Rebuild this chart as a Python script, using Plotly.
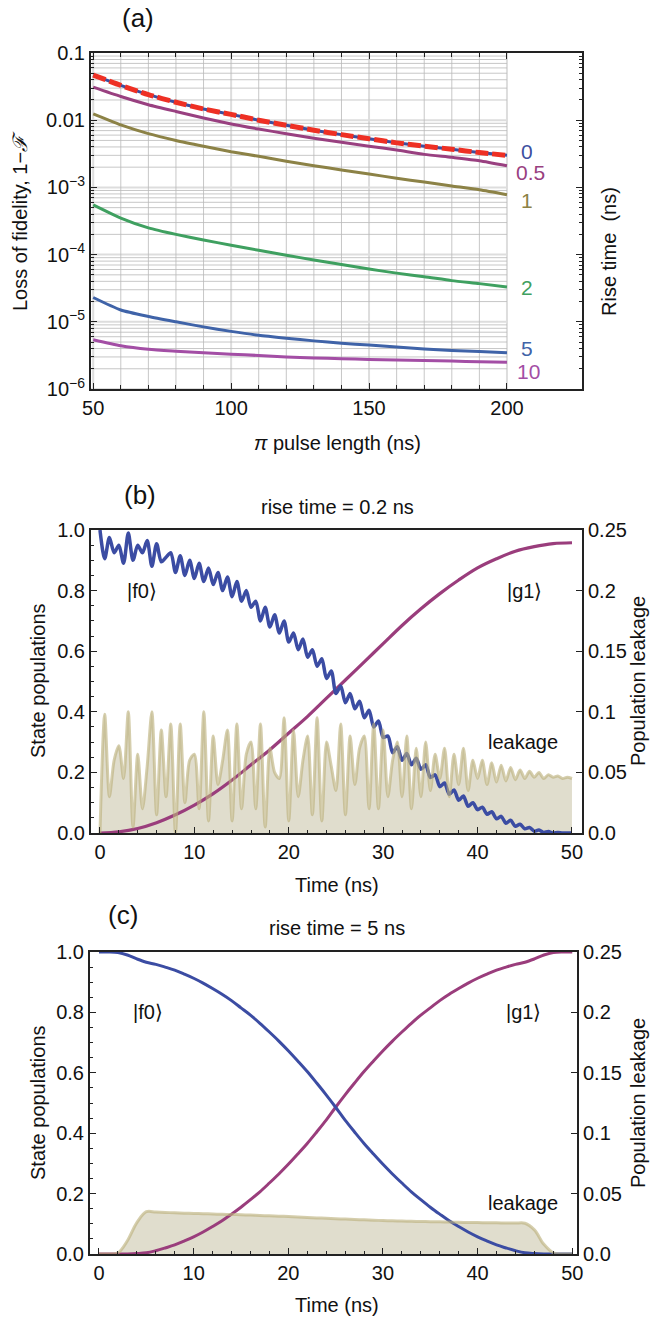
import plotly.graph_objects as go
import numpy as np

# ---------------- Panel (a) data ----------------
pulse_ns = [50, 60, 70, 80, 90, 100, 110, 120, 130, 140, 150, 160, 170, 180, 190, 200]
loss_rise_0 = [0.047, 0.033, 0.024, 0.0185, 0.0147, 0.0122, 0.0100, 0.0084, 0.0071, 0.0061,
               0.0053, 0.0046, 0.0041, 0.0037, 0.0033, 0.0030]
loss_analytic = [0.047, 0.033, 0.024, 0.0185, 0.0147, 0.0122, 0.0100, 0.0084, 0.0071, 0.0061,
                 0.0053, 0.0046, 0.0041, 0.0037, 0.0033, 0.0030]
loss_rise_05 = [0.031, 0.0225, 0.017, 0.0135, 0.0108, 0.0088, 0.0074, 0.0063, 0.0054, 0.0047,
                0.0041, 0.0036, 0.0031, 0.0028, 0.0025, 0.0021]
loss_rise_1 = [0.0124, 0.0085, 0.0063, 0.0050, 0.0041, 0.0034, 0.0029, 0.00245, 0.0021, 0.00182,
               0.00158, 0.00137, 0.0012, 0.00105, 0.00092, 0.00078]
loss_rise_2 = [5.5e-4, 3.5e-4, 2.5e-4, 2.0e-4, 1.65e-4, 1.38e-4, 1.16e-4, 9.8e-5, 8.3e-5, 7.1e-5,
               6.1e-5, 5.3e-5, 4.7e-5, 4.1e-5, 3.7e-5, 3.3e-5]
loss_rise_5 = [2.3e-5, 1.5e-5, 1.2e-5, 1.0e-5, 8.4e-6, 7.2e-6, 6.3e-6, 5.7e-6, 5.2e-6, 4.8e-6,
               4.5e-6, 4.2e-6, 3.95e-6, 3.75e-6, 3.6e-6, 3.45e-6]
loss_rise_10 = [5.4e-6, 4.4e-6, 3.9e-6, 3.65e-6, 3.45e-6, 3.3e-6, 3.15e-6, 3.0e-6, 2.9e-6, 2.82e-6,
                2.75e-6, 2.7e-6, 2.65e-6, 2.6e-6, 2.55e-6, 2.5e-6]
rise_labels = ["0", "0.5", "1", "2", "5", "10"]
a_ytick_vals = [1e-6, 1e-5, 1e-4, 1e-3, 1e-2, 1e-1]
a_ytick_text = ["10<sup>−6</sup>", "10<sup>−5</sup>", "10<sup>−4</sup>", "10<sup>−3</sup>", "0.01", "0.1"]
a_xtick_vals = [50, 100, 150, 200]
a_grid_x = [50, 60, 70, 80, 90, 100, 110, 120, 130, 140, 150, 160, 170, 180, 190, 200]

# ---------------- Panel (b) data (rise time 0.2 ns) ----------------
t_b = [i * 0.5 for i in range(101)]
f0_b = [
    1.00, 0.905, 0.975, 0.925, 0.95, 0.89, 0.99, 0.90, 0.95, 0.925,
    0.965, 0.88, 0.955, 0.895, 0.91, 0.925, 0.86, 0.915, 0.85, 0.90,
    0.84, 0.89, 0.83, 0.875, 0.82, 0.86, 0.80, 0.845, 0.78, 0.83,
    0.765, 0.80, 0.745, 0.765, 0.70, 0.745, 0.68, 0.72, 0.66, 0.70,
    0.63, 0.66, 0.605, 0.64, 0.58, 0.605, 0.55, 0.575, 0.51, 0.535,
    0.46, 0.485, 0.43, 0.46, 0.41, 0.435, 0.38, 0.405, 0.35, 0.37,
    0.315, 0.32, 0.265, 0.285, 0.24, 0.262, 0.225, 0.247, 0.21, 0.225,
    0.183, 0.192, 0.153, 0.165, 0.128, 0.142, 0.108, 0.122, 0.088, 0.10,
    0.077, 0.085, 0.062, 0.07, 0.047, 0.055, 0.032, 0.042, 0.022, 0.029,
    0.014, 0.018, 0.006, 0.010, 0.002, 0.005, 0.0, 0.002, 0.0, 0.0,
    0.0]
leak_b = [
    0.0, 0.098, 0.03, 0.06, 0.072, 0.045, 0.1, 0.005, 0.065, 0.02,
    0.055, 0.1, 0.015, 0.085, 0.03, 0.09, 0.0, 0.09, 0.025, 0.06,
    0.065, 0.02, 0.1, 0.01, 0.08, 0.04, 0.06, 0.085, 0.01, 0.09,
    0.02, 0.065, 0.075, 0.02, 0.09, 0.005, 0.07, 0.05, 0.045, 0.095,
    0.01, 0.085, 0.03, 0.06, 0.08, 0.015, 0.095, 0.01, 0.075, 0.055,
    0.035, 0.09, 0.015, 0.08, 0.04, 0.07, 0.08, 0.02, 0.09, 0.02,
    0.085, 0.03, 0.06, 0.075, 0.03, 0.08, 0.02, 0.07, 0.03, 0.075,
    0.035, 0.065, 0.045, 0.07, 0.03, 0.065, 0.04, 0.07, 0.035, 0.06,
    0.045, 0.06, 0.04, 0.058, 0.042, 0.056, 0.043, 0.054, 0.044, 0.052,
    0.045, 0.051, 0.046, 0.05, 0.045, 0.048, 0.046, 0.047, 0.045, 0.046,
    0.045]
t_b_g1 = [i * 2 for i in range(26)]
g1_b = [0.0, 0.004, 0.015, 0.034, 0.06, 0.092, 0.13, 0.175, 0.225, 0.275, 0.33, 0.385, 0.445,
        0.505, 0.565, 0.625, 0.685, 0.74, 0.79, 0.835, 0.875, 0.905, 0.93, 0.945, 0.955, 0.958]

# ---------------- Panel (c) data (rise time 5 ns) ----------------
t_c = list(range(51))
f0_c = [1.0, 1.0, 0.998, 0.99, 0.977, 0.966, 0.959, 0.950, 0.940, 0.927, 0.913, 0.897, 0.879,
        0.860, 0.839, 0.815, 0.791, 0.764, 0.735, 0.705, 0.673, 0.639, 0.604, 0.566, 0.527,
        0.486, 0.443, 0.404, 0.366, 0.331, 0.297, 0.265, 0.235, 0.206, 0.180, 0.155, 0.132,
        0.110, 0.091, 0.073, 0.057, 0.043, 0.030, 0.020, 0.011, 0.004, 0.0015, 0.0003, 0.0,
        0.0, 0.0]
g1_c = [0.0, 0.0, 0.0, 0.0003, 0.0015, 0.004, 0.011, 0.020, 0.030, 0.043, 0.057, 0.073, 0.091,
        0.110, 0.132, 0.155, 0.180, 0.206, 0.235, 0.265, 0.297, 0.331, 0.366, 0.404, 0.443,
        0.486, 0.527, 0.566, 0.604, 0.639, 0.673, 0.705, 0.735, 0.764, 0.791, 0.815, 0.839,
        0.860, 0.879, 0.897, 0.913, 0.927, 0.940, 0.950, 0.959, 0.966, 0.977, 0.99, 0.998,
        1.0, 1.0]
leak_c = [0.0, 0.0, 0.001, 0.011, 0.026, 0.035, 0.0347, 0.0344, 0.0341, 0.0338, 0.0336, 0.0334,
          0.0331, 0.0329, 0.0327, 0.0325, 0.0322, 0.0319, 0.0316, 0.0313, 0.031, 0.0306, 0.0303,
          0.0299, 0.0296, 0.0292, 0.0289, 0.0286, 0.0283, 0.028, 0.0277, 0.0275, 0.0273, 0.0271,
          0.0269, 0.0268, 0.0266, 0.0264, 0.0262, 0.0261, 0.026, 0.0259, 0.0258, 0.0257, 0.0256,
          0.0255, 0.020, 0.008, 0.001, 0.0, 0.0]

leak_tick_vals = [0, 0.05, 0.1, 0.15, 0.2, 0.25]
leak_tick_text = ["0.0", "0.05", "0.1", "0.15", "0.2", "0.25"]
pop_tick_vals = [0, 0.2, 0.4, 0.6, 0.8, 1.0]
pop_tick_text = ["0.0", "0.2", "0.4", "0.6", "0.8", "1.0"]
time_tick_vals = [0, 10, 20, 30, 40, 50]

# ---------------- styling ----------------
W, H = 654, 1321
FONT = "Liberation Sans, Arial, sans-serif"
FRAME = "#222222"
C_F0 = "#3b4ca3"
C_G1 = "#9a3d7c"
C_LEAK_LINE = "rgba(188,176,122,0.62)"
C_LEAK_FILL = "rgba(205,200,175,0.62)"
a_colors = ["#3c4fa0", "#994080", "#8c8246", "#3fa060", "#3f63a8", "#a34ea5"]
C_RED = "#ee3024"
TICK_SIZE = 20
TITLE_SIZE = 20


def px(x):
    return x / W


def py(y):
    return 1 - y / H


fig = go.Figure()

# ---- panel (a) grid as traces, limited to the pulse-length range ----
a_x0, a_x1 = 49.2, 227.2
gx_major, gy_major, gx_minor, gy_minor = [], [], [], []
for g in a_grid_x:
    tgt = (gx_major, gy_major) if g in a_xtick_vals else (gx_minor, gy_minor)
    tgt[0].extend([g, g, None])
    tgt[1].extend([1e-6, 1e-1, None])
for k in range(-6, -1):
    for m in range(1, 10):
        v = m * 10.0 ** k
        if m == 1:
            gx_major.extend([a_x0, 200, None]); gy_major.extend([v, v, None])
        else:
            gx_minor.extend([a_x0, 200, None]); gy_minor.extend([v, v, None])
fig.add_trace(go.Scatter(x=gx_major, y=gy_major, mode="lines", xaxis="x", yaxis="y",
                         line=dict(color="#dddddd", width=2), hoverinfo="skip"))
fig.add_trace(go.Scatter(x=gx_minor, y=gy_minor, mode="lines", xaxis="x", yaxis="y",
                         line=dict(color="#b9b9b9", width=0.8), hoverinfo="skip"))

a_series = [loss_rise_0, loss_rise_05, loss_rise_1, loss_rise_2, loss_rise_5, loss_rise_10]
for s, c in zip(a_series, a_colors):
    fig.add_trace(go.Scatter(x=pulse_ns, y=s, mode="lines", xaxis="x", yaxis="y",
                             line=dict(color=c, width=3, shape="spline", smoothing=0.6)))
fig.add_trace(go.Scatter(x=pulse_ns, y=loss_analytic, mode="lines", xaxis="x", yaxis="y",
                         line=dict(color=C_RED, width=5, dash="13px,4px", shape="spline",
                                   smoothing=0.6)))

# ---- panel (b): base axis y2 = leakage (fill), overlay y3 = populations, overlay y6 = leak line
fig.add_trace(go.Scatter(x=t_b, y=leak_b, mode="lines", xaxis="x2", yaxis="y2", fill="tozeroy",
                         fillcolor=C_LEAK_FILL, line=dict(width=0, shape="spline", smoothing=0.8)))
fig.add_trace(go.Scatter(x=t_b_g1, y=g1_b, mode="lines", xaxis="x2", yaxis="y3",
                         line=dict(color=C_G1, width=3.2, shape="spline")))
fig.add_trace(go.Scatter(x=t_b, y=f0_b, mode="lines", xaxis="x2", yaxis="y3",
                         line=dict(color=C_F0, width=3.5, shape="spline", smoothing=0.8)))
fig.add_trace(go.Scatter(x=t_b, y=leak_b, mode="lines", xaxis="x2", yaxis="y6",
                         line=dict(color=C_LEAK_LINE, width=3, shape="spline", smoothing=0.8)))

# ---- panel (c): base y4 = leakage, overlay y5 = populations, overlay y7 = leak line
fig.add_trace(go.Scatter(x=t_c, y=leak_c, mode="lines", xaxis="x3", yaxis="y4", fill="tozeroy",
                         fillcolor=C_LEAK_FILL, line=dict(width=0, shape="spline")))
fig.add_trace(go.Scatter(x=t_c, y=g1_c, mode="lines", xaxis="x3", yaxis="y5",
                         line=dict(color=C_G1, width=3, shape="spline")))
fig.add_trace(go.Scatter(x=t_c, y=f0_c, mode="lines", xaxis="x3", yaxis="y5",
                         line=dict(color=C_F0, width=3, shape="spline")))
fig.add_trace(go.Scatter(x=t_c, y=leak_c, mode="lines", xaxis="x3", yaxis="y7",
                         line=dict(color=C_LEAK_LINE, width=3, shape="spline")))

tickfont = dict(family=FONT, size=TICK_SIZE, color="#111111")
common = dict(showline=True, linewidth=2, linecolor=FRAME, ticks="inside", tickcolor=FRAME,
              tickwidth=1, ticklen=6, tickfont=tickfont, zeroline=False, showgrid=False,
              automargin=False)

a_minor_y = [m * 10.0 ** k for k in range(-6, -1) for m in range(2, 10)]
a_minor_x = [g for g in a_grid_x if g not in a_xtick_vals]
minor_t = dict(dtick=2, tick0=0, ticks="inside", ticklen=3, tickcolor=FRAME)
minor_p = dict(dtick=0.05, tick0=0, ticks="inside", ticklen=3, tickcolor=FRAME)

fig.update_layout(
    width=W, height=H, autosize=False, margin=dict(l=0, r=0, t=0, b=0, pad=0, autoexpand=False),
    paper_bgcolor="white", plot_bgcolor="white", showlegend=False,
    font=dict(family=FONT, color="#111111"),
    xaxis=dict(domain=[px(91), px(582)], range=[a_x0, a_x1], anchor="y", tickvals=a_xtick_vals,
               mirror="ticks", minor=dict(tickvals=a_minor_x, ticks="inside", ticklen=4,
                                          tickcolor=FRAME), **common),
    yaxis=dict(domain=[py(389), py(53)], type="log", range=[-6, -1], anchor="x",
               tickvals=a_ytick_vals, ticktext=a_ytick_text, mirror="ticks",
               minor=dict(tickvals=a_minor_y, ticks="inside", ticklen=3, tickcolor=FRAME),
               **common),
    # panel (b)
    xaxis2=dict(domain=[px(91), px(582)], range=[-0.95, 51.06], anchor="y2",
                tickvals=time_tick_vals, mirror=True, minor=minor_t, **common),
    yaxis2=dict(domain=[py(833), py(530)], range=[0, 0.25], anchor="x2", side="right",
                tickvals=leak_tick_vals, ticktext=leak_tick_text, **common),
    yaxis3=dict(range=[0, 1], anchor="x2", overlaying="y2", side="left",
                tickvals=pop_tick_vals, ticktext=pop_tick_text, minor=minor_p, **common),
    yaxis6=dict(range=[0, 0.25], anchor="x2", overlaying="y2", visible=False),
    # panel (c)
    xaxis3=dict(domain=[px(90), px(577)], range=[-0.95, 50.5], anchor="y4",
                tickvals=time_tick_vals, mirror=True, minor=minor_t, **common),
    yaxis4=dict(domain=[py(1254), py(952)], range=[0, 0.25], anchor="x3", side="right",
                tickvals=leak_tick_vals, ticktext=leak_tick_text, **common),
    yaxis5=dict(range=[0, 1], anchor="x3", overlaying="y4", side="left",
                tickvals=pop_tick_vals, ticktext=pop_tick_text, minor=minor_p, **common),
    yaxis7=dict(range=[0, 0.25], anchor="x3", overlaying="y4", visible=False),
)

ann = []


def text_at(x, y, s, size=TITLE_SIZE, angle=0, color="#111111"):
    ann.append(dict(x=px(x), y=py(y), xref="paper", yref="paper", text=s, showarrow=False,
                    textangle=angle, xanchor="center", yanchor="middle",
                    font=dict(family=FONT, size=size, color=color)))


# panel (a) texts
text_at(138, 18, "(a)", size=26)
text_at(20, 221, "Loss of fidelity, 1−<i>ℱ</i>", angle=-90)
text_at(337, 443, "<i>π</i> pulse length (ns)")
text_at(609, 252, "Rise time  (ns)", angle=-90)
label_shift = [4, -6, -5, 0, 5, -9]
label_xshift = [0, 4, 0, 0, 0, 2]
for lab, s, c, dy, dx in zip(rise_labels, a_series, a_colors, label_shift, label_xshift):
    ann.append(dict(x=207.2, y=float(np.log10(s[-1])), xref="x", yref="y", text=lab,
                    showarrow=False, yshift=dy, xshift=dx, xanchor="center", yanchor="middle",
                    height=18, borderpad=0, valign="middle",
                    font=dict(family=FONT, size=21, color=c)))

# panel (b) texts
text_at(140, 495, "(b)", size=26)
text_at(337, 507, "rise time = 0.2 ns")
text_at(38, 681, "State populations", angle=-90)
text_at(638, 681, "Population leakage", angle=-90)
text_at(337, 885, "Time (ns)")
for x, y, s in [(4.4, 0.8, "|f0⟩"), (45, 0.8, "|g1⟩"), (44.8, 0.3, "leakage")]:
    ann.append(dict(x=x, y=y, xref="x2", yref="y3", text=s, showarrow=False,
                    font=dict(family=FONT, size=TITLE_SIZE, color="#111111")))

# panel (c) texts
text_at(123, 915, "(c)", size=26)
text_at(337, 928, "rise time = 5 ns")
text_at(38, 1103, "State populations", angle=-90)
text_at(638, 1103, "Population leakage", angle=-90)
text_at(337, 1305, "Time (ns)")
for x, y, s in [(5.2, 0.8, "|f0⟩"), (44.8, 0.8, "|g1⟩"), (44.8, 0.17, "leakage")]:
    ann.append(dict(x=x, y=y, xref="x3", yref="y5", text=s, showarrow=False,
                    font=dict(family=FONT, size=TITLE_SIZE, color="#111111")))

fig.update_layout(annotations=ann)

page_css = (
    "var r=document.documentElement, b=document.body;"
    "r.style.margin='0'; r.style.padding='0'; r.style.overflow='hidden';"
    "b.style.margin='0'; b.style.padding='0'; b.style.overflow='hidden';"
    "b.style.fontSize='0px'; b.style.lineHeight='0px';"
)
fig.write_html("out.html", config={"displayModeBar": False}, post_script=page_css)
